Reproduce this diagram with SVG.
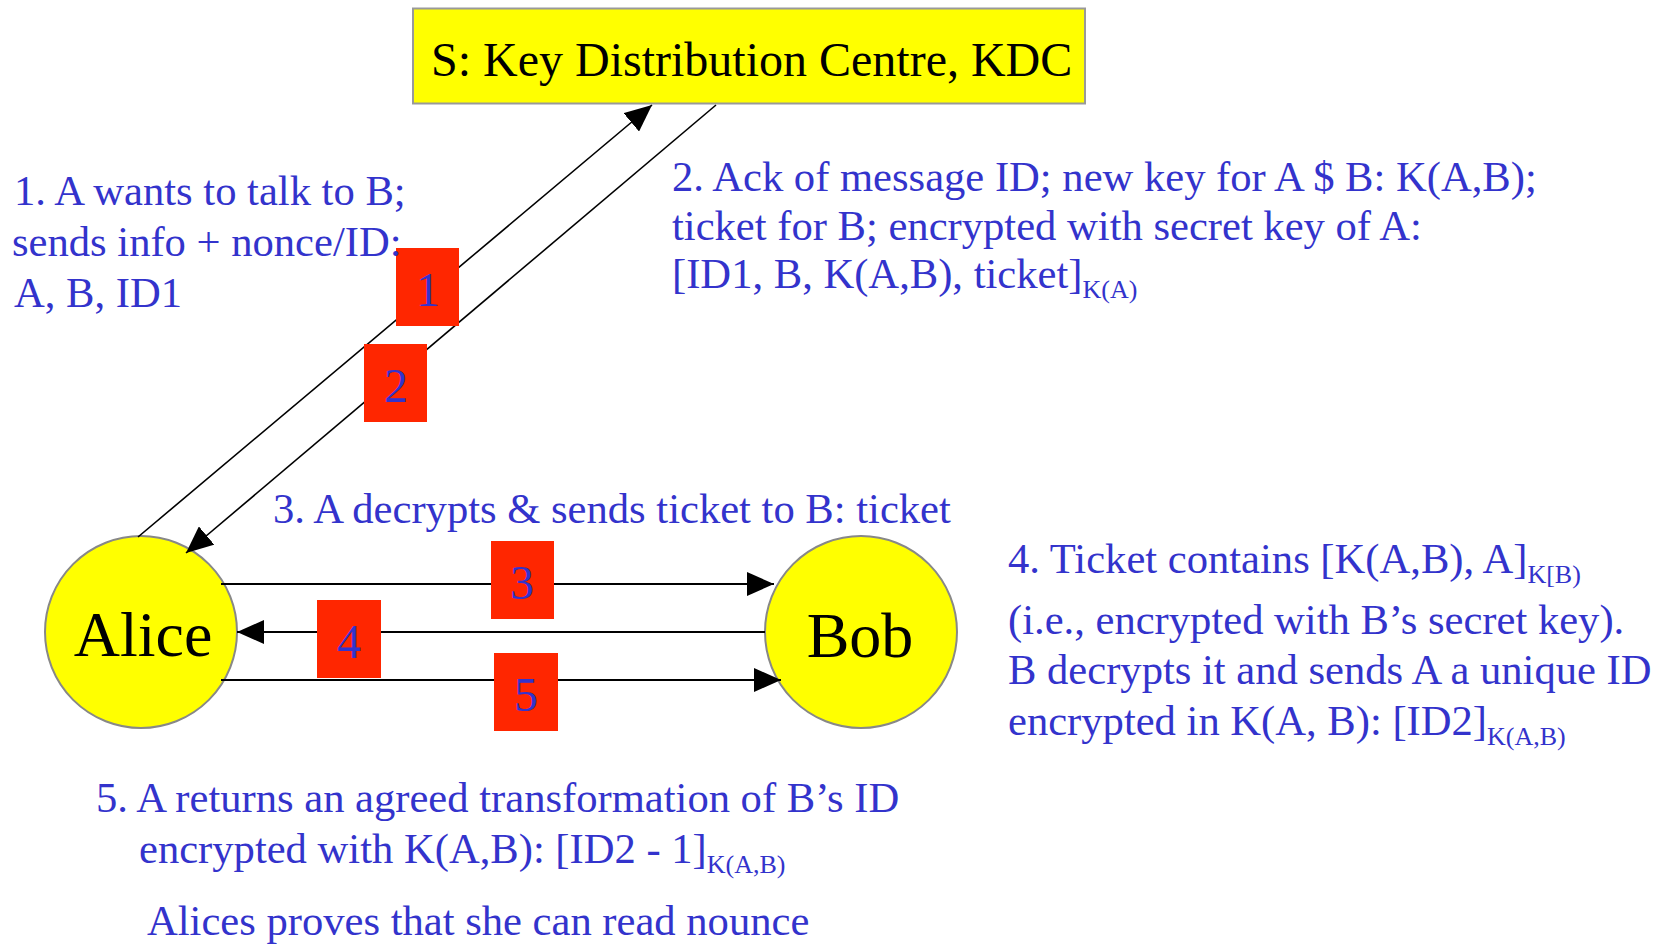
<svg xmlns="http://www.w3.org/2000/svg" width="1670" height="944" viewBox="0 0 1670 944">
<style>
  .t { font-family: "Liberation Serif", "Times New Roman", serif; font-size: 42.6px; fill: #3333cc; }
  .sub { font-size: 26px; }
  .num { font-family: "Liberation Serif", "Times New Roman", serif; font-size: 48px; fill: #3333cc; text-anchor: middle; }
  .node { font-family: "Liberation Serif", "Times New Roman", serif; fill: #000; }
  .badge { fill: #ff2600; }
  .conn { stroke: #000; fill: none; }
</style>
<defs>
  <marker id="ah" viewBox="0 0 27 24" refX="27" refY="12" markerWidth="27" markerHeight="24" markerUnits="userSpaceOnUse" orient="auto">
    <path d="M0,0 L27,12 L0,24 z" fill="#000"/>
  </marker>
</defs>
<rect width="1670" height="944" fill="#fff"/>

<g id="kdc">
  <rect x="413" y="8.5" width="672" height="95" fill="#ffff00" stroke="#999" stroke-width="2"/>
  <text class="node" x="431" y="76" font-size="48">S: Key Distribution Centre, KDC</text>
</g>
<g id="alice">
  <circle cx="141" cy="632" r="96" fill="#ffff00" stroke="#888" stroke-width="2"/>
  <text class="node" x="143" y="656" font-size="64" text-anchor="middle">Alice</text>
</g>
<g id="bob">
  <circle cx="861" cy="632" r="96" fill="#ffff00" stroke="#888" stroke-width="2"/>
  <text class="node" x="860" y="657" font-size="64" text-anchor="middle">Bob</text>
</g>

<g id="connectors">
  <line class="conn" x1="138" y1="537" x2="652" y2="105" stroke-width="1.6" marker-end="url(#ah)"/>
  <line class="conn" x1="716" y1="105" x2="186" y2="553" stroke-width="1.6" marker-end="url(#ah)"/>
  <line class="conn" x1="221" y1="584" x2="774" y2="584" stroke-width="2.2" marker-end="url(#ah)"/>
  <line class="conn" x1="765" y1="632" x2="237" y2="632" stroke-width="2.2" marker-end="url(#ah)"/>
  <line class="conn" x1="221" y1="680" x2="781" y2="680" stroke-width="2.2" marker-end="url(#ah)"/>
</g>

<g id="label1">
  <rect class="badge" x="396" y="248" width="63" height="78"/>
  <text class="num" x="428" y="306">1</text>
</g>
<g id="label2">
  <rect class="badge" x="364" y="344" width="63" height="78"/>
  <text class="num" x="396" y="402">2</text>
</g>
<g id="label3">
  <rect class="badge" x="491" y="541" width="63" height="78"/>
  <text class="num" x="522" y="599">3</text>
</g>
<g id="label4">
  <rect class="badge" x="317" y="600" width="64" height="78"/>
  <text class="num" x="349" y="658">4</text>
</g>
<g id="label5">
  <rect class="badge" x="494" y="653" width="64" height="78"/>
  <text class="num" x="526" y="711">5</text>
</g>

<g id="text1">
  <text class="t" x="14" y="205">1. A wants to talk to B;</text>
  <text class="t" x="12" y="256">sends info + nonce/ID:</text>
  <text class="t" x="14" y="307">A, B, ID1</text>
</g>
<g id="text2">
  <text class="t" x="672" y="191">2. Ack of message ID; new key for A $ B: K(A,B);</text>
  <text class="t" x="672" y="240">ticket for B; encrypted with secret key of A:</text>
  <text class="t" x="672" y="288">[ID1, B, K(A,B), ticket]<tspan class="sub" dy="10">K(A)</tspan></text>
</g>
<g id="text3">
  <text class="t" x="273" y="523">3. A decrypts &amp; sends ticket to B: ticket</text>
</g>
<g id="text4">
  <text class="t" x="1008" y="573">4. Ticket contains [K(A,B), A]<tspan class="sub" dy="10">K[B)</tspan></text>
  <text class="t" x="1008" y="634">(i.e., encrypted with B’s secret key).</text>
  <text class="t" x="1008" y="684">B decrypts it and sends A a unique ID</text>
  <text class="t" x="1008" y="735">encrypted in K(A, B): [ID2]<tspan class="sub" dy="10">K(A,B)</tspan></text>
</g>
<g id="text5">
  <text class="t" x="96" y="812">5. A returns an agreed transformation of B’s ID</text>
  <text class="t" x="139" y="863">encrypted with K(A,B): [ID2 - 1]<tspan class="sub" dy="10">K(A,B)</tspan></text>
  <text class="t" x="147" y="935">Alices proves that she can read nounce</text>
</g>
</svg>
